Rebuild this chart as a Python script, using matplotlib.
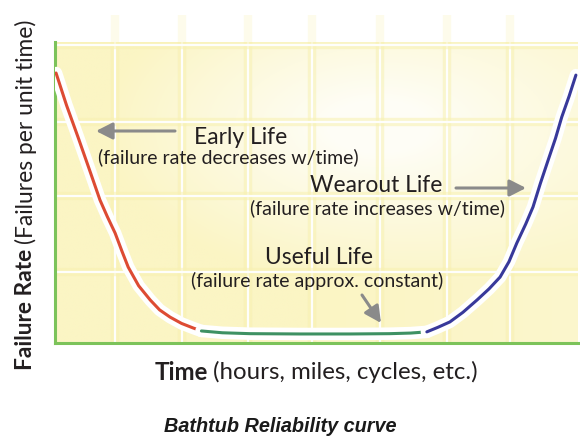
import matplotlib.pyplot as plt
import matplotlib.patheffects as pe
from matplotlib.patches import FancyArrowPatch
import numpy as np

# curve values (time 0-100, failure rate 0-100)
early_t = [0.2, 2.2, 4.4, 6.5, 8.6, 10.0, 11.5, 12.8, 14.0, 16.0, 18.2, 20.0,
           22.0, 24.2, 26.4, 28.0]
early_r = [89.7, 79.0, 68.4, 58.0, 47.5, 42.0, 36.5, 30.5, 25.2, 19.0, 14.3, 11.0,
           8.6, 6.5, 5.0, 4.0]
useful_t = [28.0, 32.0, 37.3, 46.8, 56.4, 64.0, 68.0, 71.1]
useful_r = [4.0, 3.4, 3.1, 3.0, 3.0, 3.1, 3.3, 3.7]
wear_t = [71.1, 73.2, 75.5, 78.0, 80.7, 83.0, 85.1, 86.8, 88.3, 90.0, 91.4, 92.8,
          94.3, 95.7, 96.9, 98.3, 99.6]
wear_r = [3.7, 5.2, 7.0, 10.2, 14.3, 18.0, 21.9, 27.0, 33.2, 39.5, 45.2, 53.0,
          60.8, 68.0, 75.1, 82.0, 89.0]

grid_x = [11.5, 24.3, 36.9, 49.1, 62.1, 75.0, 87.0]
grid_y = [23.6, 48.8, 73.4, 99.0]

W, H = 580, 438


def fx(px):
    return px / W


def fy(py):
    return 1 - py / H


def fit_size(fig, s, target, vertical=False, **kw):
    t = fig.text(0, 0, s, fontsize=10, **kw)
    bb = t.get_window_extent(fig.canvas.get_renderer())
    t.remove()
    return 10 * target / (bb.height if vertical else bb.width)


fig = plt.figure(figsize=(5.8, 4.38), dpi=100)
ax = fig.add_axes([55 / W, (H - 343) / H, 523 / W, 301 / H])
ax.set_xlim(0, 100)
ax.set_ylim(0, 100)

# pale yellow background, whitest toward upper middle-right
xx, yy = np.meshgrid(np.linspace(0, 100, 200), np.linspace(0, 100, 200))
d = np.sqrt(((xx - 62) / 50) ** 2 + ((yy - 72) / 45) ** 2)
k = np.clip(d - 0.2, 0, 1) ** 0.9
k = np.clip(k * (1.0 - 0.3 * xx / 100) + 0.15, 0, 1)
white = np.array([1.0, 1.0, 1.0])
yellow = np.array([251, 245, 196]) / 255
img = white[None, None, :] * (1 - k[..., None]) + yellow[None, None, :] * k[..., None]
ax.imshow(img, extent=[0, 100, 0, 100], origin='lower', aspect='auto', zorder=0)

for gx in grid_x:
    ax.plot([gx, gx], [0, 109], color='#f8f1b0', lw=6, alpha=0.25, zorder=1,
            clip_on=False, solid_capstyle='butt')
    ax.plot([gx, gx], [0, 100], color='#f8f1b0', lw=6, alpha=0.35, zorder=1)
    ax.plot([gx, gx], [0, 100], color='white', lw=1.6, alpha=0.95, zorder=1)
for gy in grid_y:
    ax.plot([0, 100], [gy, gy], color='#f8f1b0', lw=6, alpha=0.55, zorder=1)
    ax.plot([0, 100], [gy, gy], color='white', lw=1.6, alpha=0.95, zorder=1)

halo = [pe.Stroke(linewidth=9, foreground='white'), pe.Normal()]
ax.plot(early_t, early_r, color='#dd4b33', lw=2.2, zorder=3, path_effects=halo,
        solid_capstyle='round')
ax.plot(useful_t, useful_r, color='#3e9163', lw=2.2, zorder=3, path_effects=halo,
        solid_capstyle='round')
ax.plot(wear_t, wear_r, color='#38399a', lw=2.2, zorder=3, path_effects=halo,
        solid_capstyle='round')

for s in ['top', 'right']:
    ax.spines[s].set_visible(False)
for s in ['left', 'bottom']:
    ax.spines[s].set_color('#7cc35a')
    ax.spines[s].set_linewidth(2.2)
ax.set_xticks([])
ax.set_yticks([])

ink = '#231f20'
head_fs = np.mean([fit_size(fig, 'Wearout Life', 118, family='Lato'),
                   fit_size(fig, 'Early Life', 112, family='Lato'),
                   fit_size(fig, 'Useful Life', 96, family='Lato')])
sub_fs = fit_size(fig, '(failure rate increases w/time)', 256, family='Lato')
txt = dict(family='Lato', color=ink, ha='center', va='center')
fig.text(fx(241), fy(137), 'Early Life', fontsize=head_fs, **txt)
fig.text(fx(228), fy(157), '(failure rate decreases w/time)', fontsize=sub_fs, **txt)
fig.text(fx(376), fy(185), 'Wearout Life', fontsize=head_fs, **txt)
fig.text(fx(378), fy(208), '(failure rate increases w/time)', fontsize=sub_fs, **txt)
fig.text(fx(319), fy(258), 'Useful Life', fontsize=head_fs, **txt)
fig.text(fx(317), fy(281), '(failure rate approx. constant)', fontsize=sub_fs, **txt)

arrow = dict(arrowstyle='-|>,head_length=0.55,head_width=0.28', color='#8a8a8a',
             lw=2.2, mutation_scale=18, transform=fig.transFigure, shrinkA=0, shrinkB=0)
fig.patches.append(FancyArrowPatch((fx(175), fy(131)), (fx(96), fy(131)), **arrow))
fig.patches.append(FancyArrowPatch((fx(456), fy(188)), (fx(526), fy(188)), **arrow))
fig.patches.append(FancyArrowPatch((fx(362), fy(295)), (fx(381), fy(323)), **arrow))

r = fig.canvas.get_renderer()

# x label: bold "Time" then the rest
x_fs = fit_size(fig, 'Time (hours, miles, cycles, etc.)', 322, family='Lato')
t1 = fig.text(fx(155), fy(372), 'Time', ha='left', va='center', family='Lato',
              weight='bold', color=ink, fontsize=x_fs)
bb = t1.get_window_extent(r)
fig.text((bb.x1 + 5) / W, fy(372), '(hours, miles, cycles, etc.)', ha='left',
         va='center', family='Lato', color=ink, fontsize=x_fs)

# y label: bold "Failure Rate" then the rest, rotated
y_fs = fit_size(fig, 'Failure Rate (Failures per unit time)', 350, vertical=True,
                family='Lato', rotation=90)
t2 = fig.text(fx(26), fy(370), 'Failure Rate', ha='center', va='bottom', rotation=90,
              family='Lato', weight='bold', color=ink, fontsize=y_fs)
bb = t2.get_window_extent(r)
fig.text(fx(26), (bb.y1 + 5) / H, '(Failures per unit time)', ha='center',
         va='bottom', rotation=90, family='Lato', color=ink, fontsize=y_fs)

cap_fs = fit_size(fig, 'Bathtub Reliability curve', 233, family='Liberation Sans',
                  weight='bold', style='italic')
fig.text(fx(280), fy(427), 'Bathtub Reliability curve', ha='center', va='center',
         family='Liberation Sans', weight='bold', style='italic', color='#1a1a1a',
         fontsize=cap_fs)

fig.savefig('out.png', dpi=100)
